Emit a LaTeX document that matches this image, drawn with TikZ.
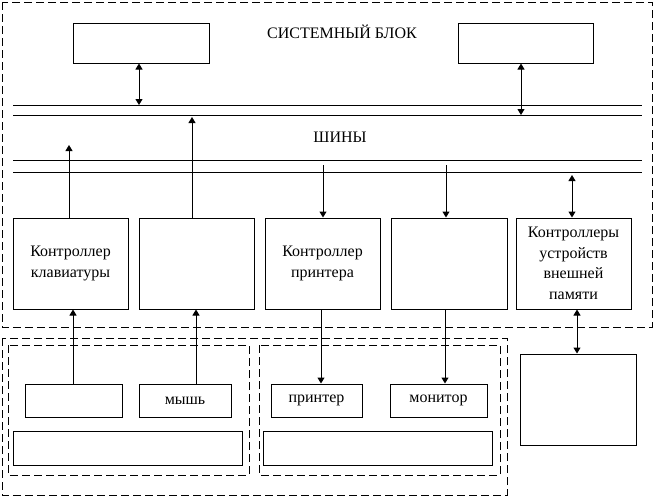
\documentclass[tikz,border=0pt]{standalone}
\usepackage{fontspec}
\setmainfont{Liberation Serif}
\usetikzlibrary{arrows.meta}
\begin{document}
\begin{tikzpicture}[x=1pt,y=-1pt,line width=1pt,
  box/.style={draw,rectangle,inner sep=0pt,align=center,font=\fontsize{16}{20.5}\selectfont},
  dbox/.style={draw,dash pattern=on 8pt off 4pt},
  lbl/.style={inner sep=0pt,font=\fontsize{16}{20}\selectfont},
  arr/.style={-{Triangle[width=7pt,length=6pt]}},
  dbl/.style={{Triangle[width=7pt,length=6pt]}-{Triangle[width=7pt,length=6pt]}}]
\useasboundingbox (0,0) rectangle (654,496);
% dashed frames
\draw[dbox] (2,2) rectangle (652,327);
\draw[dbox] (2,338) rectangle (507,495);
\draw[dbox] (8,345) rectangle (249,475);
\draw[dbox] (259,345) rectangle (500,475);
% labels
\node[lbl] (title) at (342,32) {СИСТЕМНЫЙ БЛОК};
\node[lbl] (bus) at (340,137) {ШИНЫ};
% top boxes
\node[box,minimum width=136pt,minimum height=40pt] (top1) at (141,43) {};
\node[box,minimum width=135pt,minimum height=40pt] (top2) at (525.5,43) {};
% bus lines
\coordinate (b1L) at (13,105); \coordinate (b1R) at (642,105);
\coordinate (b2L) at (13,115.5); \coordinate (b2R) at (642,115.5);
\coordinate (b3L) at (13,160.5); \coordinate (b3R) at (642,160.5);
\coordinate (b4L) at (13,172); \coordinate (b4R) at (642,172);
\draw (b1L) -- (b1R);
\draw (b2L) -- (b2R);
\draw (b3L) -- (b3R);
\draw (b4L) -- (b4R);
% controllers
\node[box,minimum width=115pt,minimum height=91pt] (cA) at (70.5,263.5) {Контроллер\\клавиатуры};
\node[box,minimum width=115pt,minimum height=91pt] (cB) at (196.5,263.5) {};
\node[box,minimum width=115pt,minimum height=91pt] (cC) at (322.5,263.5) {Контроллер\\принтера};
\node[box,minimum width=116pt,minimum height=91pt] (cD) at (449,263.5) {};
\node[box,minimum width=115pt,minimum height=91pt] (cE) at (573.5,263.5) {Контроллеры\\устройств\\внешней\\памяти};
% peripherals
\node[box,minimum width=97pt,minimum height=33pt] (kbd) at (73.5,400.5) {};
\node[box,minimum width=92pt,minimum height=33pt] (mouse) at (185,400.5) {мышь};
\node[box,minimum width=229pt,minimum height=34pt] (wideL) at (127.5,448) {};
\node[box,minimum width=91pt,minimum height=33pt] (printer) at (316.5,400.5) {принтер};
\node[box,minimum width=97pt,minimum height=33pt] (monitor) at (438.5,400.5) {монитор};
\node[box,minimum width=229pt,minimum height=34pt] (wideR) at (377.5,448) {};
\node[box,minimum width=116pt,minimum height=91pt] (ext) at (578,399.5) {};
% arrows top
\coordinate (p1) at (139,105);
\draw[dbl] (p1 |- top1.south) -- (p1);
\coordinate (p2) at (521,115);
\draw[dbl] (p2 |- top2.south) -- (p2);
% arrows bus-controllers
\coordinate (pa) at (69,145);
\draw[arr] (pa |- cA.north) -- (pa);
\coordinate (pb) at (192,117);
\draw[arr] (pb |- cB.north) -- (pb);
\coordinate (pc) at (323,165);
\draw[arr] (pc) -- (pc |- cC.north);
\coordinate (pd) at (446,165);
\draw[arr] (pd) -- (pd |- cD.north);
\coordinate (pe) at (572,175);
\draw[dbl] (pe) -- (pe |- cE.north);
% arrows controllers-peripherals
\coordinate (qa) at (73,0);
\draw[arr] (qa |- kbd.north) -- (qa |- cA.south);
\coordinate (qb) at (196,0);
\draw[arr] (qb |- mouse.north) -- (qb |- cB.south);
\coordinate (qc) at (321,0);
\draw[arr] (qc |- cC.south) -- (qc |- printer.north);
\coordinate (qd) at (445,0);
\draw[arr] (qd |- cD.south) -- (qd |- monitor.north);
\coordinate (qe) at (577,0);
\draw[dbl] (qe |- cE.south) -- (qe |- ext.north);
\end{tikzpicture}
\end{document}
